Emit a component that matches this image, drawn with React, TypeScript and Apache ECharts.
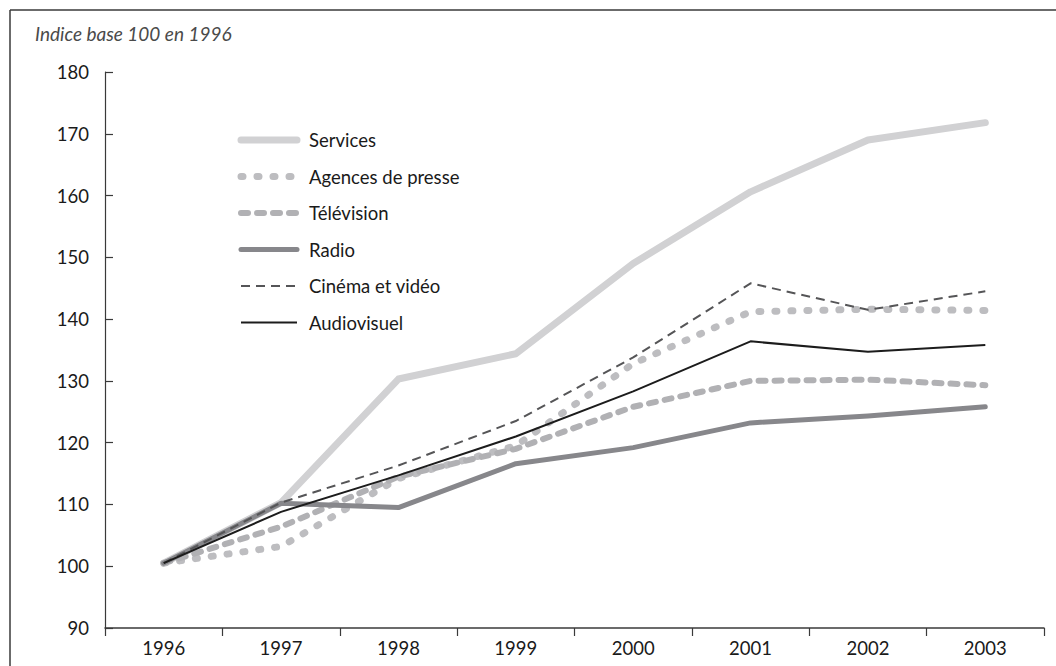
import React, { useEffect, useRef } from "react";
import * as echarts from "echarts";

const years = ["1996", "1997", "1998", "1999", "2000", "2001", "2002", "2003"];
const seriesNames = ["Services", "Agences de presse", "Télévision", "Radio", "Cinéma et vidéo", "Audiovisuel"];
const services = [100.5, 110.3, 130.3, 134.4, 149.0, 160.6, 169.0, 171.8];
const agences = [100.5, 103.2, 114.2, 119.5, 132.8, 141.2, 141.6, 141.4];
const television = [100.5, 106.4, 114.5, 119.0, 125.8, 130.0, 130.2, 129.3];
const radio = [100.5, 110.2, 109.5, 116.6, 119.2, 123.2, 124.3, 125.8];
const cinema = [100.5, 110.3, 116.3, 123.5, 133.8, 145.8, 141.5, 144.5];
const audiovisuel = [100.5, 108.8, 114.7, 121.0, 128.3, 136.4, 134.7, 135.8];
const yTicks = { min: 90, max: 180, interval: 10 };
const titleText = "Indice base 100 en 1996";

const FONT = "Lato, 'DejaVu Sans', sans-serif";

const styles = [
  { color: "#d1d1d3", width: 7, type: "solid" as any, cap: "round" },
  { color: "#bdbdc0", width: 7, type: [2, 14] as any, cap: "round" },
  { color: "#b1b1b4", width: 6, type: [7, 9] as any, cap: "round" },
  { color: "#87878b", width: 5, type: "solid" as any, cap: "round" },
  { color: "#555557", width: 2, type: [9, 6] as any, cap: "butt" },
  { color: "#1c1c1c", width: 2, type: "solid" as any, cap: "butt" },
];

export default function App() {
  const ref = useRef<HTMLDivElement>(null);
  useEffect(() => {
    if (!ref.current) return;
    const chart = echarts.init(ref.current, null, { renderer: "svg" });
    const data = [services, agences, television, radio, cinema, audiovisuel];
    const legendY0 = 140;
    const legendGap = 36.5;
    const legendGraphics: any[] = [];
    seriesNames.forEach((name, i) => {
      const s = styles[i];
      const y = legendY0 + i * legendGap;
      legendGraphics.push({
        type: "line",
        shape: { x1: 241, y1: y, x2: 297, y2: y },
        style: {
          stroke: s.color,
          lineWidth: s.width,
          lineDash: Array.isArray(s.type) ? s.type : null,
          lineCap: s.cap,
        },
      });
      legendGraphics.push({
        type: "text",
        x: 309,
        y: y,
        style: { text: name, fill: "#1a1a1a", font: `18.5px ${FONT}`, textVerticalAlign: "middle", verticalAlign: "middle" },
      });
    });
    chart.setOption({
      animation: false,
      backgroundColor: "#ffffff",
      grid: { left: 105, right: 12, top: 72, bottom: 38, containLabel: false },
      xAxis: {
        type: "category",
        data: years,
        boundaryGap: true,
        axisLine: { lineStyle: { color: "#3a3a3a", width: 1.5 } },
        axisTick: { show: true, length: 8, lineStyle: { color: "#3a3a3a", width: 1.2 } },
        axisLabel: { color: "#1a1a1a", fontSize: 18.5, fontFamily: FONT, margin: 10 },
        splitLine: { show: false },
      },
      yAxis: {
        type: "value",
        min: yTicks.min,
        max: yTicks.max,
        interval: yTicks.interval,
        axisLine: { show: true, lineStyle: { color: "#3a3a3a", width: 1.2 } },
        axisTick: { show: true, inside: true, length: 8, lineStyle: { color: "#3a3a3a", width: 1.2 } },
        axisLabel: { color: "#1a1a1a", fontSize: 18.5, fontFamily: FONT, margin: 16 },
        splitLine: { show: false },
      },
      graphic: [
        {
          type: "line",
          shape: { x1: 10, y1: 10, x2: 1056, y2: 10 },
          style: { stroke: "#3a3a3a", lineWidth: 1.5 },
        },
        {
          type: "line",
          shape: { x1: 10, y1: 10, x2: 10, y2: 666 },
          style: { stroke: "#3a3a3a", lineWidth: 1.5 },
        },
        {
          type: "text",
          x: 35,
          y: 33,
          style: { text: titleText, fill: "#4a4a4a", font: `italic 19px ${FONT}`, textVerticalAlign: "middle", verticalAlign: "middle" },
        },
        ...legendGraphics,
      ],
      series: seriesNames.map((name, i) => ({
        name,
        type: "line",
        data: data[i],
        showSymbol: false,
        symbol: "none",
        lineStyle: {
          color: styles[i].color,
          width: styles[i].width,
          type: styles[i].type,
          cap: styles[i].cap,
          join: "round",
        },
        z: 2 + i,
      })),
    });
    return () => chart.dispose();
  }, []);
  return (
    <div
      ref={ref}
      style={{ position: "fixed", left: 0, top: 0, width: 1056, height: 666 }}
    />
  );
}
